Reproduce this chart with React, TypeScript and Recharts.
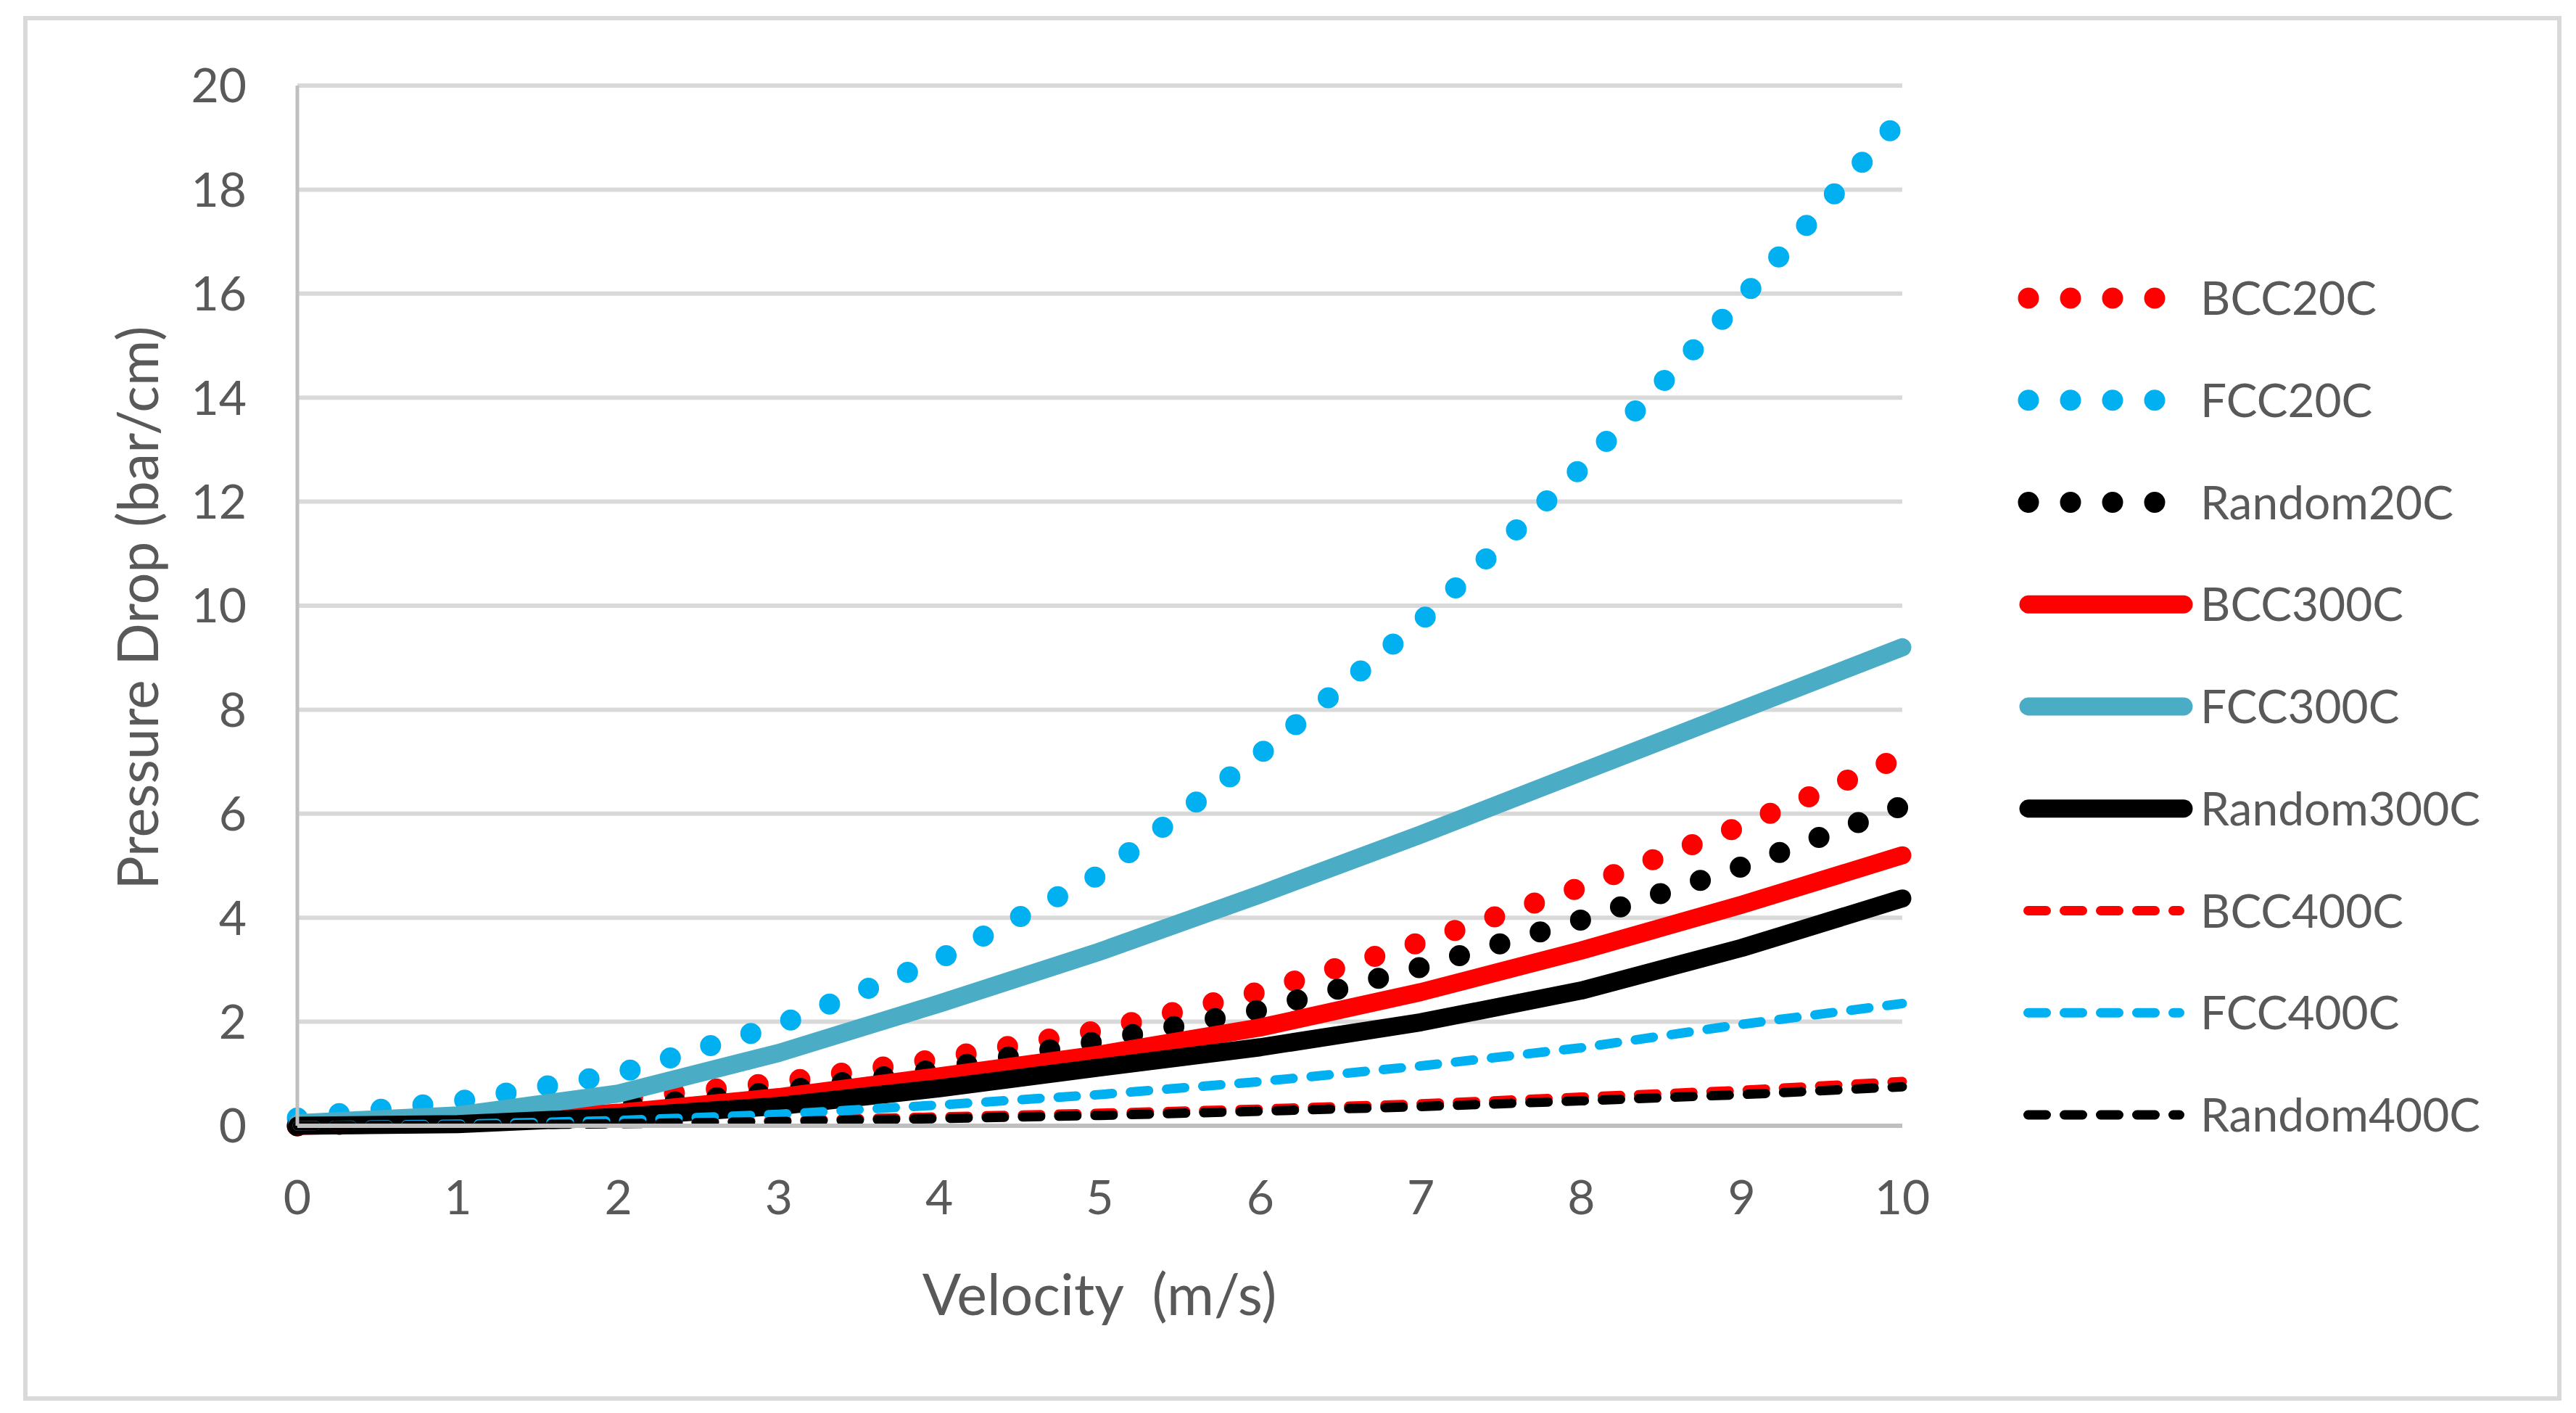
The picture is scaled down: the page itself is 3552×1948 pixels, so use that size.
import React from "react"
import { LineChart, Line, XAxis, YAxis, CartesianGrid, Legend } from "recharts"

// velocity (m/s)
const velocity = [0, 1, 2, 3, 4, 5, 6, 7, 8, 9, 10]

// pressure drop (bar/cm)
const bcc20 = [0, 0.2, 0.52, 0.83, 1.29, 1.84, 2.58, 3.53, 4.59, 5.77, 7.1]
const fcc20 = [0.15, 0.47, 1.0, 1.94, 3.2, 4.83, 7.15, 9.7, 12.65, 15.9, 19.4]
const random20 = [0, 0.1, 0.35, 0.66, 1.09, 1.63, 2.23, 3.05, 3.96, 4.98, 6.15]
const bcc300 = [0, 0.05, 0.25, 0.55, 0.95, 1.37, 1.89, 2.57, 3.37, 4.25, 5.2]
const fcc300 = [0.05, 0.2, 0.62, 1.4, 2.35, 3.35, 4.45, 5.6, 6.8, 8.0, 9.2]
const random300 = [0, 0.03, 0.17, 0.38, 0.72, 1.12, 1.51, 1.99, 2.6, 3.42, 4.37]
const bcc400 = [0, 0.02, 0.05, 0.1, 0.17, 0.24, 0.32, 0.42, 0.55, 0.68, 0.85]
const fcc400 = [0, 0.03, 0.1, 0.22, 0.4, 0.6, 0.85, 1.15, 1.5, 1.95, 2.35]
const random400 = [0, 0.01, 0.04, 0.08, 0.14, 0.2, 0.28, 0.37, 0.48, 0.6, 0.75]

const xTicks = [0, 1, 2, 3, 4, 5, 6, 7, 8, 9, 10]
const yTicks = [0, 2, 4, 6, 8, 10, 12, 14, 16, 18, 20]

const data = velocity.map((v, i) => ({
  v,
  BCC20C: bcc20[i],
  FCC20C: fcc20[i],
  Random20C: random20[i],
  BCC300C: bcc300[i],
  FCC300C: fcc300[i],
  Random300C: random300[i],
  BCC400C: bcc400[i],
  FCC400C: fcc400[i],
  Random400C: random400[i],
}))

const DOT = { width: 29, dash: "0 58" }
const SOLID = { width: 25, dash: undefined }
const DASH = { width: 13, dash: "25 25" }

const series = [
  { key: "BCC20C", color: "#FF0000", style: DOT },
  { key: "FCC20C", color: "#00B0F0", style: DOT },
  { key: "Random20C", color: "#000000", style: DOT },
  { key: "BCC300C", color: "#FF0000", style: SOLID },
  { key: "FCC300C", color: "#4BACC6", style: SOLID },
  { key: "Random300C", color: "#000000", style: SOLID },
  { key: "BCC400C", color: "#FF0000", style: DASH },
  { key: "FCC400C", color: "#00B0F0", style: DASH },
  { key: "Random400C", color: "#000000", style: DASH },
]

const FONT = "Lato, 'Open Sans', sans-serif"
const GREY = "#595959"

const LEGEND_LEFT = 2760
const LEGEND_TOP = 340
const LEGEND_W = 780

function LegendBox() {
  return (
    <svg width={LEGEND_W} height={1280} style={{ display: "block" }}>
      {series.map((s, i) => {
        const cy = 411 + i * 140.75 - LEGEND_TOP
        let x1 = 2797
        let x2 = 3011
        if (s.style === DOT) x2 = 2972
        if (s.style === DASH) {
          x1 = 2796.5
          x2 = 3005.5
        }
        return (
          <g key={s.key}>
            <line
              x1={x1 - LEGEND_LEFT}
              x2={x2 - LEGEND_LEFT}
              y1={cy}
              y2={cy}
              stroke={s.color}
              strokeWidth={s.style.width}
              strokeDasharray={s.style.dash}
              strokeLinecap="round"
            />
            <text
              x={3034 - LEGEND_LEFT}
              y={cy + 23}
              fontFamily={FONT}
              fontSize={64}
              fill={GREY}
            >
              {s.key}
            </text>
          </g>
        )
      })}
    </svg>
  )
}

function XTitle() {
  return (
    <text
      x={1516}
      y={1813}
      textAnchor="middle"
      fontFamily={FONT}
      fontSize={79}
      fill={GREY}
      style={{ whiteSpace: "pre" }}
    >
      {"Velocity  (m/s)"}
    </text>
  )
}

function YTitle() {
  return (
    <text
      x={218}
      y={838}
      transform="rotate(-90, 218, 838)"
      textAnchor="middle"
      fontFamily={FONT}
      fontSize={77}
      fill={GREY}
    >
      Pressure Drop (bar/cm)
    </text>
  )
}

export default function App() {
  return (
    <div style={{ position: "absolute", left: 0, top: 0, width: 3552, height: 1948, background: "#fff" }}>
      <div
        style={{
          position: "absolute",
          left: 32,
          top: 22,
          width: 3488,
          height: 1897,
          border: "6px solid #d9d9d9",
        }}
      />
      <LineChart
        width={3552}
        height={1948}
        data={data}
        // the legend's width is taken off the plot on the right, so the margin leaves it out
        margin={{ top: 118, right: 929 - LEGEND_W, bottom: 276, left: 0 }}
        style={{ position: "absolute", left: 0, top: 0 }}
      >
        <CartesianGrid vertical={false} stroke="#d9d9d9" strokeWidth={6} />
        <XAxis
          dataKey="v"
          type="number"
          domain={[0, 10]}
          ticks={xTicks}
          height={120}
          tickSize={0}
          tickMargin={75}
          axisLine={{ stroke: "#bfbfbf", strokeWidth: 6 }}
          tick={{ fontSize: 66, fill: GREY, fontFamily: FONT }}
          label={<XTitle />}
        />
        <YAxis
          type="number"
          domain={[0, 20]}
          ticks={yTicks}
          width={410}
          tickSize={0}
          tickMargin={70}
          axisLine={{ stroke: "#bfbfbf", strokeWidth: 5 }}
          tick={{ fontSize: 66, fill: GREY, fontFamily: FONT }}
          label={<YTitle />}
        />
        {series.map((s) => (
          <Line
            key={s.key}
            dataKey={s.key}
            name={s.key}
            type="linear"
            stroke={s.color}
            strokeWidth={s.style.width}
            strokeDasharray={s.style.dash}
            strokeLinecap="round"
            strokeLinejoin="round"
            dot={false}
            activeDot={false}
            isAnimationActive={false}
          />
        ))}
        <Legend
          layout="horizontal"
          verticalAlign="middle"
          align="right"
          content={<LegendBox />}
          wrapperStyle={{ position: "absolute", left: LEGEND_LEFT, top: LEGEND_TOP, width: LEGEND_W, height: 1280 }}
        />
      </LineChart>
    </div>
  )
}
